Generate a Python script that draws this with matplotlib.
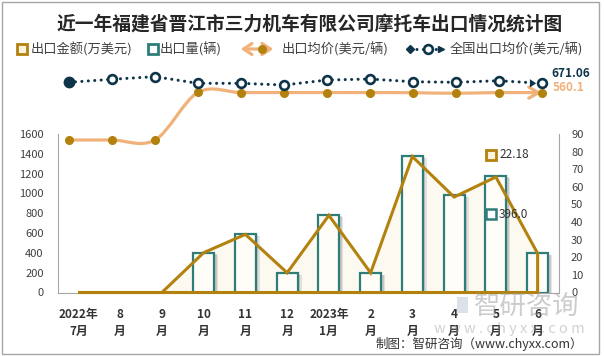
import numpy as np
import matplotlib
matplotlib.use('Agg')
import matplotlib.pyplot as plt
import matplotlib.patheffects as pe
from matplotlib.patches import FancyArrowPatch, Rectangle
from matplotlib.path import Path

plt.rcParams['font.family'] = ['Noto Sans CJK SC', 'DejaVu Sans']

# 数据
months = ['2022年\n7月', '8\n月', '9\n月', '10\n月', '11\n月', '12\n月',
          '2023年\n1月', '2\n月', '3\n月', '4\n月', '5\n月', '6\n月']
qty = [0, 0, 0, 400, 590, 200, 785, 195, 1380, 985, 1175, 396.0]          # 出口量(辆)
amount = [0, 0, 0, 22.6, 33.0, 11.2, 43.8, 11.2, 77.2, 54.2, 65.6, 22.18]  # 出口金额(万美元)
price = [0, 0, 0, 563, 562, 562, 562, 562, 560, 553, 562, 560.1]          # 出口均价(美元/辆)
nat_price = [683, 719, 750, 671, 671, 651, 710, 722, 690, 683, 702, 671.06]  # 全国出口均价
left_ticks = list(range(0, 1601, 200))
right_ticks = list(range(0, 91, 10))
title = '近一年福建省晋江市三力机车有限公司摩托车出口情况统计图'

gold = '#B3820E'
teal = '#2F7D79'
orange = '#F0B27A'
navy = '#0E3449'
grey = '#A6A6A6'

W, H = 604, 356
fig = plt.figure(figsize=(W / 100, H / 100), dpi=100)


def box(x0, y0, x1, y1):
    # 像素坐标(左上原点) -> figure 比例
    return [x0 / W, 1 - y1 / H, (x1 - x0) / W, (y1 - y0) / H]


x = np.arange(len(months))

ax = fig.add_axes(box(57.5, 134, 558.5, 292.5))
ax_fill = ax.twinx()
ax2 = ax.twinx()
ax_fill.set_zorder(0)
ax.set_zorder(1)
ax2.set_zorder(2)
ax.patch.set_visible(False)
ax_fill.patch.set_visible(True)
ax_fill.patch.set_facecolor('white')

ax.set_xlim(-0.5, 11.5)
ax.set_ylim(0, 1600)
ax2.set_ylim(0, 90)
ax_fill.set_ylim(0, 90)

# 出口金额 面积填充
ax_fill.fill_between(x, amount, 0, color='#FCFAF0', lw=0)
ax_fill.set_yticks([])
for s in ax_fill.spines.values():
    s.set_visible(False)

# 出口量 柱
shadow = [pe.SimplePatchShadow(offset=(3, -1.5), shadow_rgbFace='#8a8a8a', alpha=0.22),
          pe.SimplePatchShadow(offset=(1.8, -1), shadow_rgbFace='#8a8a8a', alpha=0.3),
          pe.Normal()]
bars = ax.bar(x, qty, width=0.5, color='#FEFDF8', edgecolor=teal, linewidth=1.6,
              path_effects=shadow)
for b, q in zip(bars, qty):
    if q == 0:
        b.set_visible(False)

# 出口金额 折线
ax2.fill(np.r_[x, x[-1]], np.r_[amount, 0], facecolor='none', edgecolor=gold,
         linewidth=2.2, clip_on=False, joinstyle='miter')

for s in ['top', 'right']:
    ax.spines[s].set_visible(False)
for s in ['top', 'left', 'bottom']:
    ax2.spines[s].set_visible(False)
ax.spines['left'].set_color(grey)
ax.spines['bottom'].set_color(grey)
ax2.spines['right'].set_color(grey)

ax.set_yticks(left_ticks)
ax2.set_yticks(right_ticks)
ax.tick_params(axis='y', length=0, pad=10, labelsize=8, labelcolor='#404040')
ax2.tick_params(axis='y', length=0, pad=9, labelsize=8, labelcolor='#404040')
ax.set_xticks(x, months)
ax.tick_params(axis='x', length=0, pad=11, labelsize=8.5, labelcolor='#333333')
for t in ax.get_xticklabels():
    t.set_fontweight('bold')
    t.set_linespacing(1.45)

# 均价线 (单独坐标)
axp = fig.add_axes(box(69, 60, 541.7, 140))
axp.set_zorder(3)
axp.set_xlim(0, 11)
axp.set_ylim(0, 80 * 11.84)
axp.axis('off')

pts = np.column_stack([x, price]).astype(float)
n = len(pts)
verts = [pts[0]]
for i in range(n - 1):
    p0 = pts[max(i - 1, 0)]
    p3 = pts[min(i + 2, n - 1)]
    verts += [pts[i] + (pts[i + 1] - p0) / 6, pts[i + 1] - (p3 - pts[i]) / 6, pts[i + 1]]
codes = [Path.MOVETO] + [Path.CURVE4] * (3 * (n - 1))
curve = FancyArrowPatch(path=Path(verts, codes), arrowstyle='->,head_length=0.7,head_width=0.4',
                        mutation_scale=10, color=orange, lw=2.3, transform=axp.transData,
                        clip_on=False, capstyle='round')
axp.add_patch(curve)
axp.plot(x, price, 'o', color=gold, ms=5.5, clip_on=False, zorder=4)

# 全国出口均价
axp.plot(x, nat_price, color=navy, lw=2.2, ls=(0, (0.01, 2.1)), dash_capstyle='round',
         clip_on=False, zorder=3)
axp.plot(x[1:], nat_price[1:], 'o', ms=6.3, mfc='white', mec=navy, mew=1.9, clip_on=False, zorder=5)
axp.plot(x[0], nat_price[0], 'o', color=navy, ms=7.5, clip_on=False, zorder=5)
axp.annotate('', xy=(x[-1], nat_price[-1]), xytext=(-14, 0), textcoords='offset pixels',
             arrowprops=dict(arrowstyle='-|>,head_length=0.45,head_width=0.3', color=navy, lw=0,
                             shrinkA=0, shrinkB=4, mutation_scale=10), zorder=4)

axp.annotate(f'{nat_price[-1]:.2f}', xy=(x[-1], nat_price[-1]), xytext=(10, 10),
             textcoords='offset pixels', ha='left', va='center', fontsize=8.5,
             fontweight='bold', color=navy)
axp.annotate(f'{price[-1]:.1f}', xy=(x[-1], price[-1]), xytext=(11, 5),
             textcoords='offset pixels', ha='left', va='center', fontsize=8.5,
             fontweight='bold', color=orange)

# 叠加层: 标题、图例、标注、水印
lg = fig.add_axes([0, 0, 1, 1])
lg.set_zorder(6)
lg.set_xlim(0, W)
lg.set_ylim(H, 0)
lg.axis('off')
lg.patch.set_visible(False)

lg.add_patch(Rectangle((2, 1.5), 597, 352, fill=False, ec=grey, lw=1))
lg.text(309.5, 24, title, ha='center', va='center', fontsize=13.5, fontweight='bold', color='#262626')

ly = 49
lg.plot(22, ly, 's', ms=7, mfc='#FBF3DD', mec=gold, mew=2)
lg.text(31, ly, '出口金额(万美元)', ha='left', va='center', fontsize=9.5, color='#404040')
lg.plot(152.5, ly, 's', ms=7, mfc='white', mec=teal, mew=2)
lg.text(160, ly, '出口量(辆)', ha='left', va='center', fontsize=9.5, color='#404040')
lg.add_patch(FancyArrowPatch((238, ly), (276, ly), arrowstyle='<->,head_length=0.6,head_width=0.4',
                             mutation_scale=10, color=orange, lw=2.3))
lg.plot(262, ly, 'o', color=gold, ms=5.5)
lg.text(282, ly, '出口均价(美元/辆)', ha='left', va='center', fontsize=9.5, color='#404040')
lg.plot([410, 440], [ly, ly], color=navy, lw=2.2, ls=(0, (0.01, 2.1)), dash_capstyle='round')
lg.plot(410, ly, 'D', color=navy, ms=4.5)
lg.plot(428, ly, 'o', ms=6.3, mfc='white', mec=navy, mew=1.9)
lg.plot(441, ly, '>', color=navy, ms=5)
lg.text(450, ly, '全国出口均价(美元/辆)', ha='left', va='center', fontsize=9.5, color='#404040')

lg.plot(490.7, 155, 's', ms=6.5, mfc='#FBF3DD', mec=gold, mew=2)
lg.text(499, 155, f'{amount[-1]:.2f}', ha='left', va='center', fontsize=8.5, color='#333333')
lg.plot(490.7, 214, 's', ms=6.5, mfc='white', mec=teal, mew=1.8)
lg.text(499, 214, f'{qty[-1]:.1f}', ha='left', va='center', fontsize=8.5, color='#333333')

# 水印
lg.add_patch(Rectangle((457, 297), 11, 16, fc='#C5CFDD', ec='none', alpha=0.6))
lg.text(527, 306, '智研咨询', ha='center', va='center', fontsize=19, color='#9A9A9A', alpha=0.5)
lg.text(509, 329, 'w w w . c h y x x . c o m', ha='center', va='center', fontsize=10.5,
        color='#9A9A9A', alpha=0.45)
lg.text(583, 344, '制图：智研咨询（www.chyxx.com）', ha='right', va='center', fontsize=9, color='#333333')

fig.savefig('out.png', dpi=100)
